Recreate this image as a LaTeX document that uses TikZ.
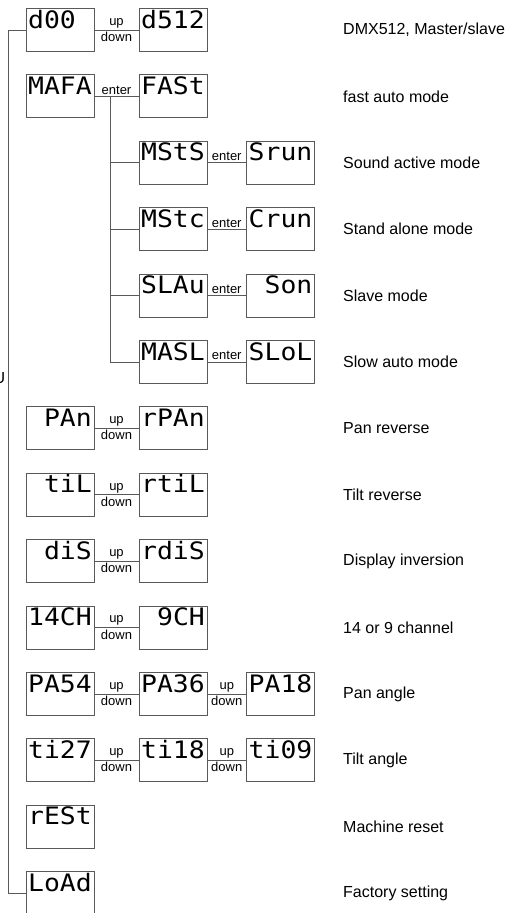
\documentclass[tikz,border=0pt]{standalone}
\usepackage{fontspec}
\setmainfont{Liberation Sans}
\newfontfamily\segfont[FakeStretch=1.1]{DejaVu Sans Mono}
\newcommand\segsp{\hphantom{0}}
\usetikzlibrary{positioning}

\begin{document}
\begin{tikzpicture}[x=1pt,y=-1pt,
  disp/.style={draw=black!65,line width=1pt,minimum width=68pt,minimum height=43pt,
    inner sep=2pt,text height=17.5pt,text depth=21.5pt,font=\segfont\fontsize{24}{24}\selectfont},
  key/.style={font=\fontsize{13}{13}\selectfont,inner sep=1.5pt},
  info/.style={anchor=west,inner sep=0pt,font=\fontsize{16}{16}\selectfont},
  wire/.style={draw=black!65,line width=1pt}]
\useasboundingbox (0,0) rectangle (509,913);

\node[disp] (d00) at (60,30) {d00\segsp};
\node[disp] (d512) at (173,30) {d512};
\node[disp] (mafa) at (60,96.4) {MAFA};
\node[disp] (fast) at (173,96.4) {FASt};
\node[disp] (msts) at (173,162.8) {MStS};
\node[disp] (srun) at (280.5,162.8) {Srun};
\node[disp] (mstc) at (173,229.2) {MStc};
\node[disp] (crun) at (280.5,229.2) {Crun};
\node[disp] (slau) at (173,295.6) {SLAu};
\node[disp] (son) at (280.5,295.6) {\segsp Son};
\node[disp] (masl) at (173,362) {MASL};
\node[disp] (slol) at (280.5,362) {SLoL};
\node[disp] (pan) at (60,428.4) {\segsp PAn};
\node[disp] (rpan) at (173,428.4) {rPAn};
\node[disp] (til) at (60,494.8) {\segsp tiL};
\node[disp] (rtil) at (173,494.8) {rtiL};
\node[disp] (dis) at (60,561.2) {\segsp diS};
\node[disp] (rdis) at (173,561.2) {rdiS};
\node[disp] (ch14) at (60,627.6) {14CH};
\node[disp] (ch9) at (173,627.6) {\segsp 9CH};
\node[disp] (pa54) at (60,694) {PA54};
\node[disp] (pa36) at (173,694) {PA36};
\node[disp] (pa18) at (280.5,694) {PA18};
\node[disp] (ti27) at (60,760.4) {ti27};
\node[disp] (ti18) at (173,760.4) {ti18};
\node[disp] (ti09) at (280.5,760.4) {ti09};
\node[disp] (rest) at (60,826.8) {rESt};
\node[disp] (load) at (60,893.2) {LoAd};

\node[anchor=east,inner sep=0pt,font=\fontsize{16}{16}\selectfont] (menu) at (5.5,378) {U};

\node[info] (i1) at (343,30) {DMX512, Master/slave};
\node[info] (i2) at (343,96.4) {fast auto mode};
\node[info] (i3) at (343,162.8) {Sound active mode};
\node[info] (i4) at (343,229.2) {Stand alone mode};
\node[info] (i5) at (343,295.6) {Slave mode};
\node[info] (i6) at (343,362) {Slow auto mode};
\node[info] (i7) at (343,428.4) {Pan reverse};
\node[info] (i8) at (343,494.8) {Tilt reverse};
\node[info] (i9) at (343,561.2) {Display inversion};
\node[info] (i10) at (343,627.6) {14 or 9 channel};
\node[info] (i11) at (343,694) {Pan angle};
\node[info] (i12) at (343,760.4) {Tilt angle};
\node[info] (i13) at (343,826.8) {Machine reset};
\node[info] (i14) at (343,893.2) {Factory setting};

\coordinate (trunk) at (8,30);
\coordinate (split) at (110,96.4);
\draw[wire] (d00.west) -- (trunk) |- (load.west);
\draw[wire] (split) |- (masl.west);
\draw[wire] (split |- msts.west) -- (msts.west);
\draw[wire] (split |- mstc.west) -- (mstc.west);
\draw[wire] (split |- slau.west) -- (slau.west);

\draw[wire] (mafa.east) -- node[key,above] {enter} (fast.west);
\draw[wire] (msts.east) -- node[key,above] {enter} (srun.west);
\draw[wire] (mstc.east) -- node[key,above] {enter} (crun.west);
\draw[wire] (slau.east) -- node[key,above] {enter} (son.west);
\draw[wire] (masl.east) -- node[key,above] {enter} (slol.west);

\draw[wire] (d00.east) -- node[key,above] {up} node[key,below] {down} (d512.west);
\draw[wire] (pan.east) -- node[key,above] {up} node[key,below] {down} (rpan.west);
\draw[wire] (til.east) -- node[key,above] {up} node[key,below] {down} (rtil.west);
\draw[wire] (dis.east) -- node[key,above] {up} node[key,below] {down} (rdis.west);
\draw[wire] (ch14.east) -- node[key,above] {up} node[key,below] {down} (ch9.west);
\draw[wire] (pa54.east) -- node[key,above] {up} node[key,below] {down} (pa36.west);
\draw[wire] (pa36.east) -- node[key,above] {up} node[key,below] {down} (pa18.west);
\draw[wire] (ti27.east) -- node[key,above] {up} node[key,below] {down} (ti18.west);
\draw[wire] (ti18.east) -- node[key,above] {up} node[key,below] {down} (ti09.west);
\end{tikzpicture}
\end{document}
